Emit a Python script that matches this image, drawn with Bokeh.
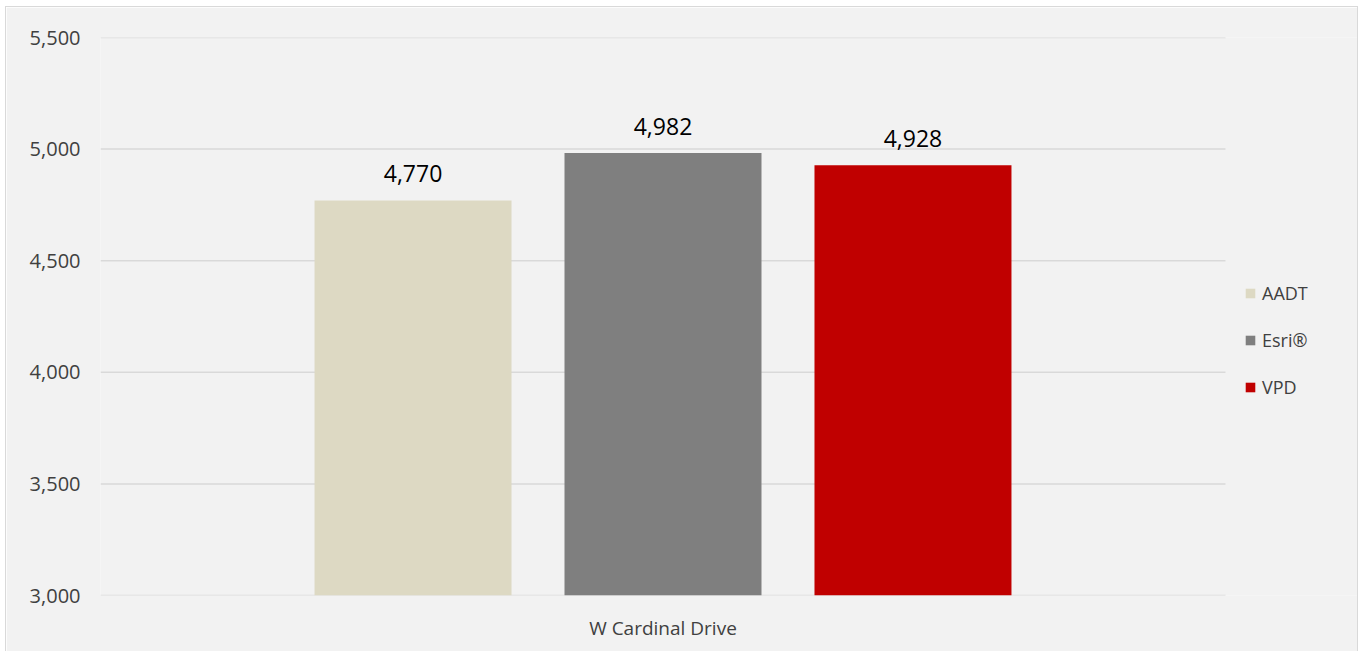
from bokeh.plotting import figure
from bokeh.models import (ColumnDataSource, Range1d, NumeralTickFormatter,
                          FixedTicker, Legend, LegendItem)
from bokeh.transform import dodge
from bokeh.core.properties import value
from bokeh.embed import file_html
from bokeh.resources import INLINE

categories = ["W Cardinal Drive"]
series = ["AADT", "Esri®", "VPD"]
aadt = [4770]
esri = [4982]
vpd = [4928]
y_ticks = [3000, 3500, 4000, 4500, 5000, 5500]

colors = ["#ddd9c3", "#7f7f7f", "#c00000"]
offsets = [-0.2222, 0.0, 0.2222]
values_by_series = [aadt, esri, vpd]

FONT = "Open Sans"
n = len(categories)
cat_x = [i + 0.5 for i in range(n)]
# plot area spans 1125 px for the categories, plus 132 px for the legend area
x_end = n * (1125 + 132) / 1125

p = figure(width=1351, height=644, x_range=Range1d(0, x_end),
           y_range=Range1d(3000, 5500), output_backend="svg", toolbar_location=None,
           min_border_left=94, min_border_right=0, min_border_top=30, min_border_bottom=56,
           background_fill_color="#f2f2f2", border_fill_color="#f2f2f2",
           outline_line_color=None, margin=(7, 0, 0, 6),
           styles={"outline": "1px solid #d9d9d9"})

# horizontal gridlines across category area only
p.segment(x0=[0] * len(y_ticks), x1=[n] * len(y_ticks), y0=y_ticks, y1=y_ticks,
          line_color="#d9d9d9", line_width=1.5)

items = []
for name, vals, col, off in zip(series, values_by_series, colors, offsets):
    src = ColumnDataSource(dict(cx=cat_x, val=vals, txt=[f"{v:,}" for v in vals]))
    r = p.vbar(x=dodge("cx", off), top="val", bottom=3000, width=0.1751,
               source=src, fill_color=col, line_color=None)
    p.text(x=dodge("cx", off), y="val", text="txt", source=src,
           text_align="center", text_baseline="bottom", y_offset=-18,
           text_font=value(FONT), text_font_size="23px", text_color="#000000")
    items.append(LegendItem(label=name, renderers=[r]))

legend = Legend(items=items, location=(1144, 196), orientation="vertical",
                background_fill_alpha=0, border_line_color=None, padding=0, margin=0,
                glyph_width=12, glyph_height=12, label_height=20, spacing=23,
                label_standoff=6, label_text_font=FONT, label_text_font_size="18px",
                label_text_color="#404040")
p.add_layout(legend, "center")

p.yaxis.ticker = FixedTicker(ticks=y_ticks)
p.yaxis.formatter = NumeralTickFormatter(format="0,0")
p.yaxis.axis_line_color = None
p.yaxis.major_tick_line_color = None
p.yaxis.minor_tick_line_color = None
p.yaxis.major_tick_out = 0
p.yaxis.major_label_standoff = 20
p.yaxis.major_label_text_font = FONT
p.yaxis.major_label_text_font_size = "20px"
p.yaxis.major_label_text_color = "#404040"

p.xaxis.ticker = FixedTicker(ticks=cat_x)
p.xaxis.major_label_overrides = {x: c for x, c in zip(cat_x, categories)}
p.xaxis.axis_line_color = None
p.xaxis.major_tick_line_color = None
p.xaxis.minor_tick_line_color = None
p.xaxis.major_tick_out = 0
p.xaxis.major_label_standoff = 19
p.xaxis.major_label_text_font = FONT
p.xaxis.major_label_text_font_size = "19px"
p.xaxis.major_label_text_color = "#404040"

p.xgrid.grid_line_color = None
p.ygrid.grid_line_color = None

open("out.html", "w").write(file_html(p, INLINE))
